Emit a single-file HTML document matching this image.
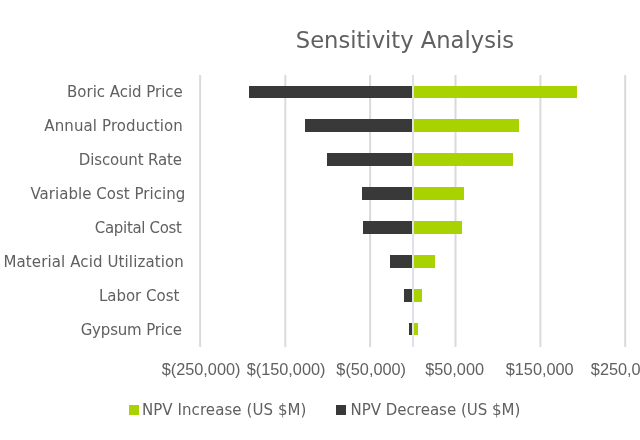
<!DOCTYPE html>
<html><head><meta charset="utf-8"><style>
*{margin:0;padding:0;box-sizing:border-box}
html,body{width:640px;height:440px;background:#fff;overflow:hidden}
body{position:relative;font-family:"DejaVu Sans","Liberation Sans",sans-serif;color:#606060}
.t,.cl,.xl{filter:blur(0.35px)}
.g{position:absolute;top:74.5px;height:272px;width:2px;background:#dadada}
.ax{position:absolute;top:74.5px;height:272px;width:2px;left:412px;background:#e0e0e8}
.bd{position:absolute;background:#393939}
.bg{position:absolute;background:#a8d200}
.t{position:absolute;white-space:nowrap;line-height:1}
.cl{position:absolute;right:457.2px;white-space:nowrap;line-height:1;font-size:15px;text-align:right}
.xl{position:absolute;white-space:nowrap;line-height:1;font-family:'Liberation Sans',sans-serif;font-size:16.3px;width:120px;text-align:center}
.sq{position:absolute;width:10px;height:10px}
</style></head><body>
<div class="g" style="left:199px;width:3px;background:linear-gradient(90deg,#dedede 0px,#dedede 1px,#dadada 1px,#dadada 2px,#fbfbfb 2px,#fbfbfb 3px)"></div>
<div class="g" style="left:284px;width:3px;background:linear-gradient(90deg,#e5e5e5 0px,#e5e5e5 1px,#dadada 1px,#dadada 2px,#f4f4f4 2px,#f4f4f4 3px)"></div>
<div class="g" style="left:369px;width:3px;background:linear-gradient(90deg,#dedede 0px,#dedede 1px,#dadada 1px,#dadada 2px,#fbfbfb 2px,#fbfbfb 3px)"></div>
<div class="g" style="left:454px;width:3px;background:linear-gradient(90deg,#ececec 0px,#ececec 1px,#dadada 1px,#dadada 2px,#ececec 2px,#ececec 3px)"></div>
<div class="g" style="left:539px;width:3px;background:linear-gradient(90deg,#e9e9e9 0px,#e9e9e9 1px,#dadada 1px,#dadada 2px,#f0f0f0 2px,#f0f0f0 3px)"></div>
<div class="g" style="left:624px;width:3px;background:linear-gradient(90deg,#e1e1e1 0px,#e1e1e1 1px,#dadada 1px,#dadada 2px,#f8f8f8 2px,#f8f8f8 3px)"></div>
<div class="bd" style="left:249.3px;top:85.5px;width:163.4px;height:12.7px"></div>
<div class="bg" style="left:412.7px;top:85.5px;width:164.2px;height:12.7px"></div>
<div class="bd" style="left:305.0px;top:119.4px;width:107.7px;height:12.7px"></div>
<div class="bg" style="left:412.7px;top:119.4px;width:106.2px;height:12.7px"></div>
<div class="bd" style="left:326.8px;top:153.3px;width:85.9px;height:12.7px"></div>
<div class="bg" style="left:412.7px;top:153.3px;width:100.5px;height:12.7px"></div>
<div class="bd" style="left:361.8px;top:187.2px;width:50.9px;height:12.7px"></div>
<div class="bg" style="left:412.7px;top:187.2px;width:51.2px;height:12.7px"></div>
<div class="bd" style="left:363.4px;top:221.1px;width:49.3px;height:12.7px"></div>
<div class="bg" style="left:412.7px;top:221.1px;width:49.3px;height:12.7px"></div>
<div class="bd" style="left:390.1px;top:255.0px;width:22.6px;height:12.7px"></div>
<div class="bg" style="left:412.7px;top:255.0px;width:22.7px;height:12.7px"></div>
<div class="bd" style="left:403.5px;top:288.9px;width:9.2px;height:12.7px"></div>
<div class="bg" style="left:412.7px;top:288.9px;width:9.3px;height:12.7px"></div>
<div class="bd" style="left:408.9px;top:322.8px;width:3.8px;height:12.7px"></div>
<div class="bg" style="left:412.7px;top:322.8px;width:5.1px;height:12.7px"></div>
<div class="ax"></div>
<div class="cl" style="top:85.3px;right:457.23px;letter-spacing:-0.028px">Boric Acid Price</div>
<div class="cl" style="top:119.2px;right:457.09px;letter-spacing:0.112px">Annual Production</div>
<div class="cl" style="top:153.1px;right:458.15px;letter-spacing:-0.151px">Discount Rate</div>
<div class="cl" style="top:187.0px;right:454.77px;letter-spacing:0.030px">Variable Cost Pricing</div>
<div class="cl" style="top:220.8px;right:458.33px;letter-spacing:-0.326px">Capital Cost</div>
<div class="cl" style="top:254.8px;right:456.08px;letter-spacing:0.115px">Material Acid Utilization</div>
<div class="cl" style="top:288.6px;right:460.60px;letter-spacing:0.000px">Labor Cost</div>
<div class="cl" style="top:322.5px;right:458.18px;letter-spacing:-0.181px">Gypsum Price</div>
<div class="xl" style="left:141.1px;top:361.4px">$(250,000)</div>
<div class="xl" style="left:226.1px;top:361.4px">$(150,000)</div>
<div class="xl" style="left:311.2px;top:361.4px">$(50,000)</div>
<div class="xl" style="left:394.6px;top:361.4px">$50,000</div>
<div class="xl" style="left:479.7px;top:361.4px">$150,000</div>
<div class="xl" style="left:564.8px;top:361.4px">$250,000</div>
<div class="t" style="left:295.8px;top:29.3px;font-size:22.63px">Sensitivity Analysis</div>
<div class="sq" style="left:129px;top:405.3px;background:#a8d200"></div>
<div class="t" style="left:141.9px;top:403.4px;font-size:15px;letter-spacing:0.08px">NPV Increase (US $M)</div>
<div class="sq" style="left:336.3px;top:405.3px;background:#393939"></div>
<div class="t" style="left:350.5px;top:403.4px;font-size:15px;letter-spacing:0px">NPV Decrease (US $M)</div>
</body></html>
